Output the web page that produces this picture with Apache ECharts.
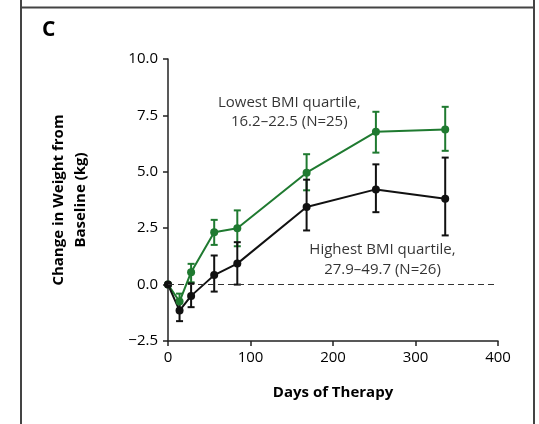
<!DOCTYPE html>
<html><head><meta charset="utf-8">
<script src="https://cdn.jsdelivr.net/npm/echarts@6/dist/echarts.min.js"></script>
<style>html,body{margin:0;padding:0;background:#fff}#c{width:539px;height:424px}</style>
</head><body><div id="c"></div>
<script>
const days = [0, 14, 28, 56, 84, 168, 252, 336];
const lowMean  = [0, -0.75, 0.55, 2.32, 2.5, 4.96, 6.77, 6.87];
const lowLo    = [0, -1.1, 0.1, 1.76, 1.7, 4.18, 5.85, 5.93];
const lowHi    = [0, -0.4, 0.92, 2.87, 3.29, 5.78, 7.66, 7.88];
const highMean = [0, -1.15, -0.5, 0.42, 0.93, 3.44, 4.22, 3.81];
const highLo   = [0, -1.62, -1.0, -0.31, 0.0, 2.4, 3.21, 2.18];
const highHi   = [0, -0.7, 0.05, 1.29, 1.88, 4.65, 5.33, 5.63];
const yTicks = [-2.5, 0, 2.5, 5, 7.5, 10];
const xTicks = [0, 100, 200, 300, 400];

const GREEN = '#1f7a30', BLACK = '#111';
const FONT = '"Open Sans", "Noto Sans", sans-serif';

function errSeries(lo, hi, color) {
  return {
    type: 'custom', z: 3,
    data: days.map((d, i) => [d, lo[i], hi[i]]).filter(r => r[1] !== r[2]),
    renderItem: function (params, api) {
      const x = api.value(0);
      const p1 = api.coord([x, api.value(1)]);
      const p2 = api.coord([x, api.value(2)]);
      const w = 3.5;
      const st = { stroke: color, lineWidth: 2 };
      return { type: 'group', children: [
        { type: 'line', shape: { x1: p1[0], y1: p1[1], x2: p2[0], y2: p2[1] }, style: st },
        { type: 'line', shape: { x1: p1[0]-w, y1: p1[1], x2: p1[0]+w, y2: p1[1] }, style: st },
        { type: 'line', shape: { x1: p2[0]-w, y1: p2[1], x2: p2[0]+w, y2: p2[1] }, style: st }
      ]};
    }
  };
}

const chart = echarts.init(document.getElementById('c'), null, { renderer: 'canvas' });
chart.setOption({
  animation: false,
  backgroundColor: '#fff',
  textStyle: { fontFamily: FONT },
  title: { text: 'C', left: 37, top: 15, textStyle: { fontSize: 21, fontWeight: 'bold', color: '#000', fontFamily: FONT } },
  grid: { left: 168, top: 59, right: 41, bottom: 83 },
  xAxis: {
    type: 'value', min: 0, max: 400, interval: 100,
    name: 'Days of Therapy', nameLocation: 'middle', nameGap: 44,
    nameTextStyle: { fontSize: 15, fontWeight: 'bold', color: '#000', fontFamily: FONT },
    axisLine: { onZero: false, lineStyle: { color: '#222', width: 1.5 } },
    axisTick: { length: 5, lineStyle: { color: '#222', width: 1.5 } },
    axisLabel: { fontSize: 15, color: '#000', margin: 9, formatter: v => xTicks.includes(v) ? String(v) : '' },
    splitLine: { show: false }
  },
  yAxis: {
    type: 'value', min: -2.5, max: 10, interval: 2.5,
    name: 'Change in Weight from\nBaseline (kg)', nameLocation: 'middle', nameGap: 76, nameRotate: 90,
    nameTextStyle: { fontSize: 15, fontWeight: 'bold', color: '#000', lineHeight: 22, fontFamily: FONT },
    axisLine: { show: true, lineStyle: { color: '#222', width: 1.5 } },
    axisTick: { show: true, length: 5, lineStyle: { color: '#222', width: 1.5 } },
    axisLabel: { fontSize: 15, color: '#000', margin: 10,
      formatter: v => yTicks.includes(v) ? (v < 0 ? '\u2212' + Math.abs(v).toFixed(1) : v.toFixed(1)) : '' },
    splitLine: { show: false }
  },
  graphic: [
    { type: 'line', shape: { x1: 21, y1: 0, x2: 21, y2: 424 }, style: { stroke: '#444', lineWidth: 2 } },
    { type: 'line', shape: { x1: 534, y1: 0, x2: 534, y2: 424 }, style: { stroke: '#444', lineWidth: 2 } },
    { type: 'line', shape: { x1: 21, y1: 7.5, x2: 534, y2: 7.5 }, style: { stroke: '#444', lineWidth: 2 } }
  ],
  series: [
    {
      type: 'line', silent: true, data: [], z: 1,
      markLine: { symbol: 'none', silent: true, label: { show: false },
        lineStyle: { type: [6, 4], color: '#333', width: 1.2 },
        data: [[{ coord: [0, 0] }, { coord: [400, 0] }]] }
    },
    errSeries(lowLo, lowHi, GREEN),
    {
      type: 'line', z: 4, data: days.map((d, i) => [d, lowMean[i]]),
      symbol: 'circle', symbolSize: 8, lineStyle: { color: GREEN, width: 2 }, itemStyle: { color: GREEN }
    },
    errSeries(highLo, highHi, BLACK),
    {
      type: 'line', z: 4, data: days.map((d, i) => [d, highMean[i]]),
      symbol: 'circle', symbolSize: 8, lineStyle: { color: BLACK, width: 2 }, itemStyle: { color: BLACK }
    },
    {
      type: 'scatter', data: [[147, 7.65]], symbolSize: 0, silent: true,
      label: { show: true, position: 'inside', formatter: 'Lowest BMI quartile,\n16.2\u201322.5 (N=25)',
        fontSize: 15, color: '#000', lineHeight: 19.5, align: 'center', fontFamily: FONT }
    },
    {
      type: 'scatter', data: [[260, 1.1]], symbolSize: 0, silent: true,
      label: { show: true, position: 'inside', formatter: 'Highest BMI quartile,\n27.9\u201349.7 (N=26)',
        fontSize: 15, color: '#000', lineHeight: 19.5, align: 'center', fontFamily: FONT }
    }
  ]
});
</script></body></html>
